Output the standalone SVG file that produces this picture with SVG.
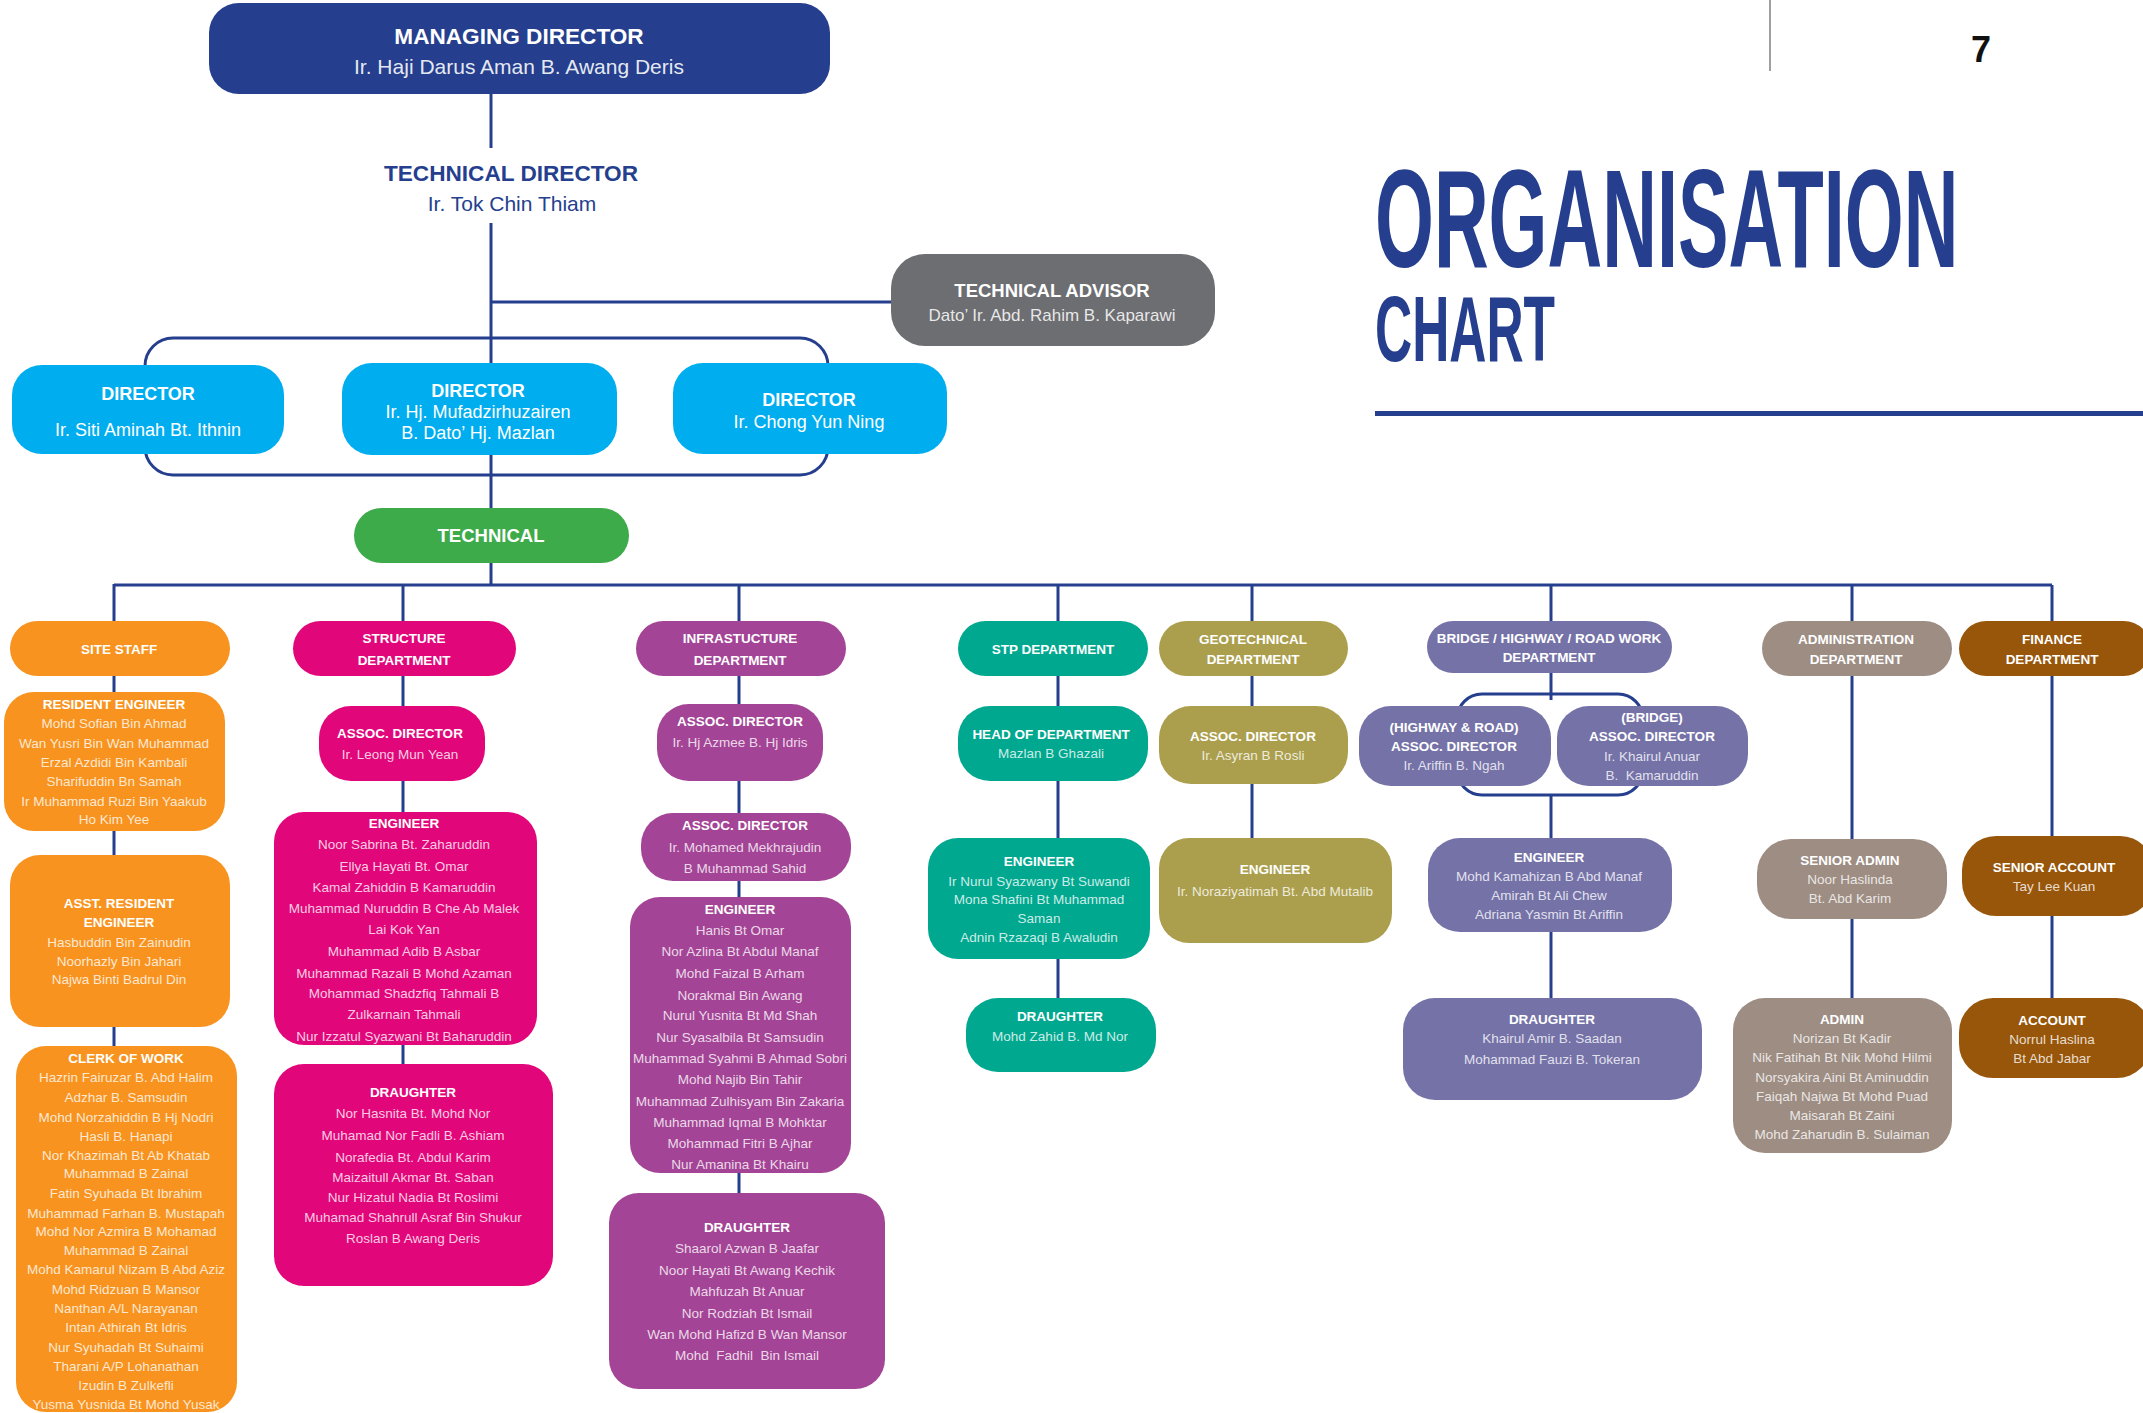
<svg xmlns="http://www.w3.org/2000/svg" width="2143" height="1413" viewBox="0 0 2143 1413">
<style>
.ln{stroke:#253f8e;stroke-width:3;fill:none}
text{font-family:"Liberation Sans",Arial,sans-serif;text-anchor:middle}
.h{font-weight:bold;fill:#fff;font-size:13.5px}
.n{fill:#fff;fill-opacity:.8;font-size:13.5px}
.or{fill:#f7931e}.mg{fill:#e2067b}.pu{fill:#a34496}.te{fill:#00a88f}.ol{fill:#ab9f4e}.sl{fill:#7572a8}.ta{fill:#9d8d83}.br{fill:#97560a}
.cy{fill:#00aeef}
.dh{font-weight:bold;fill:#fff;font-size:18px}
.dn{fill:#fff;font-size:18px}
.big{font-weight:bold;fill:#253f8e;text-anchor:start}
</style>
<rect width="2143" height="1413" fill="#fff"/>

<g id="title">
<line x1="1770" y1="0" x2="1770" y2="71" stroke="#a0a0a0" stroke-width="2"/>
<text x="1981" y="62" font-size="36" font-weight="bold" fill="#111">7</text>
<text class="big" transform="translate(1375,267) scale(0.541,1)" x="0" y="0" font-size="140">ORGANISATION</text>
<text class="big" transform="translate(1375,361) scale(0.559,1)" x="0" y="0" font-size="92">CHART</text>
<rect x="1375" y="411" width="768" height="5" fill="#253f8e"/>
</g>

<g id="connectors">
<line class="ln" x1="491" y1="94" x2="491" y2="148"/>
<line class="ln" x1="491" y1="223" x2="491" y2="585"/>
<line class="ln" x1="491" y1="302" x2="892" y2="302"/>
<rect class="ln" x="145" y="338" width="683" height="137" rx="28"/>
<line class="ln" x1="114" y1="585" x2="2052" y2="585"/>
<line class="ln" x1="114" y1="584" x2="114" y2="1046"/>
<line class="ln" x1="403" y1="585" x2="403" y2="1064"/>
<line class="ln" x1="739" y1="585" x2="739" y2="1193"/>
<line class="ln" x1="1058" y1="585" x2="1058" y2="998"/>
<line class="ln" x1="1252" y1="585" x2="1252" y2="838"/>
<line class="ln" x1="1551" y1="585" x2="1551" y2="700"/>
<rect class="ln" x="1457" y="694" width="186" height="101" rx="25"/>
<line class="ln" x1="1551" y1="795" x2="1551" y2="998"/>
<line class="ln" x1="1852" y1="585" x2="1852" y2="998"/>
<line class="ln" x1="2052" y1="585" x2="2052" y2="998"/>
</g>

<g id="managing-director">
<rect x="209" y="3" width="621" height="91" rx="30" fill="#253f8e"/>
<text x="519" y="44" font-size="22.6" font-weight="bold" fill="#fff">MANAGING DIRECTOR</text>
<text x="519" y="74" font-size="21" fill="#fff" fill-opacity=".9">Ir. Haji Darus Aman B. Awang Deris</text>
</g>
<g id="technical-director">
<text x="511" y="181" font-size="22.6" font-weight="bold" fill="#253f8e">TECHNICAL DIRECTOR</text>
<text x="512" y="211" font-size="21" fill="#253f8e">Ir. Tok Chin Thiam</text>
</g>
<g id="technical-advisor">
<rect x="891" y="254" width="324" height="92" rx="34" fill="#6d6e72"/>
<text x="1052" y="297" font-size="18.5" font-weight="bold" fill="#fff">TECHNICAL ADVISOR</text>
<text x="1052" y="321" font-size="17" fill="#fff" fill-opacity=".85">Dato’ Ir. Abd. Rahim B. Kaparawi</text>
</g>
<g id="director-1">
<rect class="cy" x="12" y="365" width="272" height="89" rx="30"/>
<text class="dh" x="148" y="400">DIRECTOR</text>
<text class="dn" x="148" y="436">Ir. Siti Aminah Bt. Ithnin</text>
</g>
<g id="director-2">
<rect class="cy" x="342" y="363" width="275" height="92" rx="30"/>
<text class="dh" x="478" y="397">DIRECTOR</text>
<text class="dn" x="478" y="418">Ir. Hj. Mufadzirhuzairen</text>
<text class="dn" x="478" y="439">B. Dato’ Hj. Mazlan</text>
</g>
<g id="director-3">
<rect class="cy" x="673" y="363" width="274" height="91" rx="30"/>
<text class="dh" x="809" y="406">DIRECTOR</text>
<text class="dn" x="809" y="428">Ir. Chong Yun Ning</text>
</g>
<g id="technical">
<rect x="354" y="508" width="275" height="55" rx="27.5" fill="#3eab4a"/>
<text x="491" y="542" font-size="18.5" font-weight="bold" fill="#fff">TECHNICAL</text>
</g>

<g id="site-staff">
<rect class="or" x="10" y="621" width="220" height="55" rx="27.5"/>
<text class="h" x="119" y="654">SITE STAFF</text>
</g>
<g id="resident-engineer">
<rect class="or" x="4" y="692" width="221" height="139" rx="30"/>
<text class="h" x="114" y="709">RESIDENT ENGINEER</text>
<text class="n" x="114" y="728">Mohd Sofian Bin Ahmad</text>
<text class="n" x="114" y="748">Wan Yusri Bin Wan Muhammad</text>
<text class="n" x="114" y="767">Erzal Azdidi Bin Kambali</text>
<text class="n" x="114" y="786">Sharifuddin Bn Samah</text>
<text class="n" x="114" y="806">Ir Muhammad Ruzi Bin Yaakub</text>
<text class="n" x="114" y="824">Ho Kim Yee</text>
</g>
<g id="asst-resident-engineer">
<rect class="or" x="10" y="855" width="220" height="172" rx="30"/>
<text class="h" x="119" y="908">ASST. RESIDENT</text>
<text class="h" x="119" y="927">ENGINEER</text>
<text class="n" x="119" y="947">Hasbuddin Bin Zainudin</text>
<text class="n" x="119" y="966">Noorhazly Bin Jahari</text>
<text class="n" x="119" y="984">Najwa Binti Badrul Din</text>
</g>
<g id="clerk-of-work">
<rect class="or" x="16" y="1046" width="221" height="366" rx="30"/>
<text class="h" x="126" y="1063">CLERK OF WORK</text>
<text class="n" x="126" y="1082">Hazrin Fairuzar B. Abd Halim</text>
<text class="n" x="126" y="1102">Adzhar B. Samsudin</text>
<text class="n" x="126" y="1122">Mohd Norzahiddin B Hj Nodri</text>
<text class="n" x="126" y="1141">Hasli B. Hanapi</text>
<text class="n" x="126" y="1160">Nor Khazimah Bt Ab Khatab</text>
<text class="n" x="126" y="1178">Muhammad B Zainal</text>
<text class="n" x="126" y="1198">Fatin Syuhada Bt Ibrahim</text>
<text class="n" x="126" y="1218">Muhammad Farhan B. Mustapah</text>
<text class="n" x="126" y="1236">Mohd Nor Azmira B Mohamad</text>
<text class="n" x="126" y="1255">Muhammad B Zainal</text>
<text class="n" x="126" y="1274">Mohd Kamarul Nizam B Abd Aziz</text>
<text class="n" x="126" y="1294">Mohd Ridzuan B Mansor</text>
<text class="n" x="126" y="1313">Nanthan A/L Narayanan</text>
<text class="n" x="126" y="1332">Intan Athirah Bt Idris</text>
<text class="n" x="126" y="1352">Nur Syuhadah Bt Suhaimi</text>
<text class="n" x="126" y="1371">Tharani A/P Lohanathan</text>
<text class="n" x="126" y="1390">Izudin B Zulkefli</text>
<text class="n" x="126" y="1409">Yusma Yusnida Bt Mohd Yusak</text>
</g>

<g id="structure-dept">
<rect class="mg" x="293" y="621" width="223" height="55" rx="27.5"/>
<text class="h" x="404" y="643">STRUCTURE</text>
<text class="h" x="404" y="665">DEPARTMENT</text>
</g>
<g id="structure-assoc-director">
<rect class="mg" x="319" y="706" width="166" height="75" rx="32"/>
<text class="h" x="400" y="738">ASSOC. DIRECTOR</text>
<text class="n" x="400" y="759">Ir. Leong Mun Yean</text>
</g>
<g id="structure-engineer">
<rect class="mg" x="274" y="812" width="263" height="233" rx="30"/>
<text class="h" x="404" y="828">ENGINEER</text>
<text class="n" x="404" y="849">Noor Sabrina Bt. Zaharuddin</text>
<text class="n" x="404" y="871">Ellya Hayati Bt. Omar</text>
<text class="n" x="404" y="892">Kamal Zahiddin B Kamaruddin</text>
<text class="n" x="404" y="913">Muhammad Nuruddin B Che Ab Malek</text>
<text class="n" x="404" y="934">Lai Kok Yan</text>
<text class="n" x="404" y="956">Muhammad Adib B Asbar</text>
<text class="n" x="404" y="978">Muhammad Razali B Mohd Azaman</text>
<text class="n" x="404" y="998">Mohammad Shadzfiq Tahmali B</text>
<text class="n" x="404" y="1019">Zulkarnain Tahmali</text>
<text class="n" x="404" y="1041">Nur Izzatul Syazwani Bt Baharuddin</text>
</g>
<g id="structure-draughter">
<rect class="mg" x="274" y="1064" width="279" height="222" rx="30"/>
<text class="h" x="413" y="1097">DRAUGHTER</text>
<text class="n" x="413" y="1118">Nor Hasnita Bt. Mohd Nor</text>
<text class="n" x="413" y="1140">Muhamad Nor Fadli B. Ashiam</text>
<text class="n" x="413" y="1162">Norafedia Bt. Abdul Karim</text>
<text class="n" x="413" y="1182">Maizaitull Akmar Bt. Saban</text>
<text class="n" x="413" y="1202">Nur Hizatul Nadia Bt Roslimi</text>
<text class="n" x="413" y="1222">Muhamad Shahrull Asraf Bin Shukur</text>
<text class="n" x="413" y="1243">Roslan B Awang Deris</text>
</g>

<g id="infrastructure-dept">
<rect class="pu" x="636" y="621" width="210" height="55" rx="27.5"/>
<text class="h" x="740" y="643">INFRASTUCTURE</text>
<text class="h" x="740" y="665">DEPARTMENT</text>
</g>
<g id="infrastructure-assoc-director-1">
<rect class="pu" x="657" y="704" width="166" height="77" rx="32"/>
<text class="h" x="740" y="726">ASSOC. DIRECTOR</text>
<text class="n" x="740" y="747">Ir. Hj Azmee B. Hj Idris</text>
</g>
<g id="infrastructure-assoc-director-2">
<rect class="pu" x="641" y="813" width="210" height="68" rx="32"/>
<text class="h" x="745" y="830">ASSOC. DIRECTOR</text>
<text class="n" x="745" y="852">Ir. Mohamed Mekhrajudin</text>
<text class="n" x="745" y="873">B Muhammad Sahid</text>
</g>
<g id="infrastructure-engineer">
<rect class="pu" x="630" y="897" width="221" height="276" rx="30"/>
<text class="h" x="740" y="914">ENGINEER</text>
<text class="n" x="740" y="935">Hanis Bt Omar</text>
<text class="n" x="740" y="956">Nor Azlina Bt Abdul Manaf</text>
<text class="n" x="740" y="978">Mohd Faizal B Arham</text>
<text class="n" x="740" y="1000">Norakmal Bin Awang</text>
<text class="n" x="740" y="1020">Nurul Yusnita Bt Md Shah</text>
<text class="n" x="740" y="1042">Nur Syasalbila Bt Samsudin</text>
<text class="n" x="740" y="1063">Muhammad Syahmi B Ahmad Sobri</text>
<text class="n" x="740" y="1084">Mohd Najib Bin Tahir</text>
<text class="n" x="740" y="1106">Muhammad Zulhisyam Bin Zakaria</text>
<text class="n" x="740" y="1127">Muhammad Iqmal B Mohktar</text>
<text class="n" x="740" y="1148">Mohammad Fitri B Ajhar</text>
<text class="n" x="740" y="1169">Nur Amanina Bt Khairu</text>
</g>
<g id="infrastructure-draughter">
<rect class="pu" x="609" y="1193" width="276" height="196" rx="30"/>
<text class="h" x="747" y="1232">DRAUGHTER</text>
<text class="n" x="747" y="1253">Shaarol Azwan B Jaafar</text>
<text class="n" x="747" y="1275">Noor Hayati Bt Awang Kechik</text>
<text class="n" x="747" y="1296">Mahfuzah Bt Anuar</text>
<text class="n" x="747" y="1318">Nor Rodziah Bt Ismail</text>
<text class="n" x="747" y="1339">Wan Mohd Hafizd B Wan Mansor</text>
<text class="n" x="747" y="1360" xml:space="preserve">Mohd  Fadhil  Bin Ismail</text>
</g>

<g id="stp-dept">
<rect class="te" x="958" y="621" width="190" height="55" rx="27.5"/>
<text class="h" x="1053" y="654">STP DEPARTMENT</text>
</g>
<g id="stp-head">
<rect class="te" x="958" y="706" width="190" height="75" rx="32"/>
<text class="h" x="1051" y="739">HEAD OF DEPARTMENT</text>
<text class="n" x="1051" y="758">Mazlan B Ghazali</text>
</g>
<g id="stp-engineer">
<rect class="te" x="928" y="838" width="222" height="121" rx="30"/>
<text class="h" x="1039" y="866">ENGINEER</text>
<text class="n" x="1039" y="886">Ir Nurul Syazwany Bt Suwandi</text>
<text class="n" x="1039" y="904">Mona Shafini Bt Muhammad</text>
<text class="n" x="1039" y="923">Saman</text>
<text class="n" x="1039" y="942">Adnin Rzazaqi B Awaludin</text>
</g>
<g id="stp-draughter">
<rect class="te" x="966" y="998" width="190" height="74" rx="32"/>
<text class="h" x="1060" y="1021">DRAUGHTER</text>
<text class="n" x="1060" y="1041">Mohd Zahid B. Md Nor</text>
</g>

<g id="geotechnical-dept">
<rect class="ol" x="1159" y="621" width="189" height="55" rx="27.5"/>
<text class="h" x="1253" y="644">GEOTECHNICAL</text>
<text class="h" x="1253" y="664">DEPARTMENT</text>
</g>
<g id="geotechnical-assoc-director">
<rect class="ol" x="1159" y="706" width="189" height="78" rx="32"/>
<text class="h" x="1253" y="741">ASSOC. DIRECTOR</text>
<text class="n" x="1253" y="760">Ir. Asyran B Rosli</text>
</g>
<g id="geotechnical-engineer">
<rect class="ol" x="1159" y="838" width="233" height="105" rx="30"/>
<text class="h" x="1275" y="874">ENGINEER</text>
<text class="n" x="1275" y="896">Ir. Noraziyatimah Bt. Abd Mutalib</text>
</g>

<g id="bridge-dept">
<rect class="sl" x="1427" y="621" width="245" height="52" rx="26"/>
<text class="h" x="1549" y="643">BRIDGE / HIGHWAY / ROAD WORK</text>
<text class="h" x="1549" y="662">DEPARTMENT</text>
</g>
<g id="highway-assoc-director">
<rect class="sl" x="1359" y="706" width="192" height="80" rx="32"/>
<text class="h" x="1454" y="732">(HIGHWAY &amp; ROAD)</text>
<text class="h" x="1454" y="751">ASSOC. DIRECTOR</text>
<text class="n" x="1454" y="770">Ir. Ariffin B. Ngah</text>
</g>
<g id="bridge-assoc-director">
<rect class="sl" x="1557" y="706" width="191" height="80" rx="32"/>
<text class="h" x="1652" y="722">(BRIDGE)</text>
<text class="h" x="1652" y="741">ASSOC. DIRECTOR</text>
<text class="n" x="1652" y="761">Ir. Khairul Anuar</text>
<text class="n" x="1652" y="780" xml:space="preserve">B.  Kamaruddin</text>
</g>
<g id="bridge-engineer">
<rect class="sl" x="1428" y="838" width="244" height="94" rx="32"/>
<text class="h" x="1549" y="862">ENGINEER</text>
<text class="n" x="1549" y="881">Mohd Kamahizan B Abd Manaf</text>
<text class="n" x="1549" y="900">Amirah Bt Ali Chew</text>
<text class="n" x="1549" y="919">Adriana Yasmin Bt Ariffin</text>
</g>
<g id="bridge-draughter">
<rect class="sl" x="1403" y="998" width="299" height="102" rx="32"/>
<text class="h" x="1552" y="1024">DRAUGHTER</text>
<text class="n" x="1552" y="1043">Khairul Amir B. Saadan</text>
<text class="n" x="1552" y="1064">Mohammad Fauzi B. Tokeran</text>
</g>

<g id="administration-dept">
<rect class="ta" x="1762" y="621" width="190" height="55" rx="27.5"/>
<text class="h" x="1856" y="644">ADMINISTRATION</text>
<text class="h" x="1856" y="664">DEPARTMENT</text>
</g>
<g id="senior-admin">
<rect class="ta" x="1757" y="839" width="190" height="80" rx="34"/>
<text class="h" x="1850" y="865">SENIOR ADMIN</text>
<text class="n" x="1850" y="884">Noor Haslinda</text>
<text class="n" x="1850" y="903">Bt. Abd Karim</text>
</g>
<g id="admin">
<rect class="ta" x="1733" y="998" width="219" height="155" rx="32"/>
<text class="h" x="1842" y="1024">ADMIN</text>
<text class="n" x="1842" y="1043">Norizan Bt Kadir</text>
<text class="n" x="1842" y="1062">Nik Fatihah Bt Nik Mohd Hilmi</text>
<text class="n" x="1842" y="1082">Norsyakira Aini Bt Aminuddin</text>
<text class="n" x="1842" y="1101">Faiqah Najwa Bt Mohd Puad</text>
<text class="n" x="1842" y="1120">Maisarah Bt Zaini</text>
<text class="n" x="1842" y="1139">Mohd Zaharudin B. Sulaiman</text>
</g>

<g id="finance-dept">
<rect class="br" x="1959" y="621" width="192" height="55" rx="27.5"/>
<text class="h" x="2052" y="644">FINANCE</text>
<text class="h" x="2052" y="664">DEPARTMENT</text>
</g>
<g id="senior-account">
<rect class="br" x="1962" y="836" width="192" height="80" rx="34"/>
<text class="h" x="2054" y="872">SENIOR ACCOUNT</text>
<text class="n" x="2054" y="891">Tay Lee Kuan</text>
</g>
<g id="account">
<rect class="br" x="1959" y="998" width="192" height="80" rx="34"/>
<text class="h" x="2052" y="1025">ACCOUNT</text>
<text class="n" x="2052" y="1044">Norrul Haslina</text>
<text class="n" x="2052" y="1063">Bt Abd Jabar</text>
</g>
</svg>
